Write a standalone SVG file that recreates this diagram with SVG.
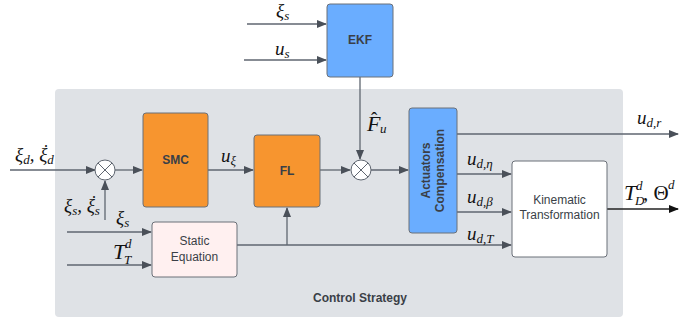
<svg xmlns="http://www.w3.org/2000/svg" width="700" height="324" viewBox="0 0 700 324">
<defs>
<marker id="ah" markerWidth="10" markerHeight="8" refX="9" refY="4" orient="auto" markerUnits="userSpaceOnUse">
<path d="M0,0 L10,4 L0,8 Z" fill="#4a5059"/>
</marker>
<marker id="ahk" markerWidth="10" markerHeight="8" refX="9" refY="4" orient="auto" markerUnits="userSpaceOnUse">
<path d="M0,0 L10,4 L0,8 Z" fill="#111"/>
</marker>
</defs>
<style>
.box{stroke:#6b7078;stroke-width:1}
.blk{font-family:"Liberation Sans",Arial,sans-serif;font-size:12px;font-weight:bold;fill:#3a3f47;text-anchor:middle}
.blk2{font-family:"Liberation Sans",Arial,sans-serif;font-size:12px;fill:#3a3f47;text-anchor:middle}
.ln{stroke:#5f6670;stroke-width:1.3;fill:none}
.m{font-family:"Liberation Serif","Times New Roman",serif;font-style:italic;font-size:19px;fill:#111}
.s{font-size:13px}
.big{font-size:22px}
.up{font-style:normal}
.dot{font-family:"Liberation Serif","Times New Roman",serif;font-size:16px;fill:#111;text-anchor:middle}
</style>
<rect x="55" y="89" width="568" height="228" rx="4" fill="#dfe2e6"/>

<g id="connectors">
<line class="ln" x1="10" y1="170" x2="95" y2="170" marker-end="url(#ah)"/>
<line class="ln" x1="105" y1="220" x2="105" y2="181" marker-end="url(#ah)"/>
<line class="ln" x1="115" y1="170" x2="142" y2="170" marker-end="url(#ah)"/>
<line class="ln" x1="208" y1="170" x2="253" y2="170" marker-end="url(#ah)"/>
<line class="ln" x1="320" y1="170" x2="350" y2="170" marker-end="url(#ah)"/>
<line class="ln" x1="371" y1="170" x2="408" y2="170" marker-end="url(#ah)"/>
<line class="ln" x1="360" y1="77" x2="360" y2="159" marker-end="url(#ah)"/>
<line class="ln" x1="247" y1="24" x2="326" y2="24" marker-end="url(#ah)"/>
<line class="ln" x1="244" y1="60" x2="326" y2="60" marker-end="url(#ah)"/>
<line class="ln" x1="67" y1="232" x2="151" y2="232" marker-end="url(#ah)"/>
<line class="ln" x1="67" y1="265" x2="151" y2="265" marker-end="url(#ah)"/>
<line class="ln" x1="237" y1="245" x2="511" y2="245" marker-end="url(#ah)"/>
<line class="ln" x1="287" y1="245" x2="287" y2="208" marker-end="url(#ah)"/>
<line class="ln" x1="457" y1="134" x2="678" y2="134" marker-end="url(#ah)"/>
<line class="ln" x1="457" y1="174" x2="511" y2="174" marker-end="url(#ah)"/>
<line class="ln" x1="457" y1="212" x2="511" y2="212" marker-end="url(#ah)"/>
<line class="ln" x1="607" y1="209" x2="678" y2="209" style="stroke:#222" marker-end="url(#ahk)"/>
</g>

<g id="sum1">
<circle cx="105" cy="170" r="10" fill="#fff" stroke="#5f6670" stroke-width="1"/>
<path d="M98,163 L112,177 M112,163 L98,177" stroke="#5f6670" stroke-width="1"/>
</g>
<g id="sum2">
<circle cx="361" cy="170" r="10" fill="#fff" stroke="#5f6670" stroke-width="1"/>
<path d="M354,163 L368,177 M368,163 L354,177" stroke="#5f6670" stroke-width="1"/>
</g>

<g id="smc">
<rect class="box" x="143" y="113" width="65" height="94" rx="3" fill="#f7952f"/>
<text class="blk" x="175.5" y="164">SMC</text>
</g>
<g id="fl">
<rect class="box" x="254" y="135" width="66" height="72" rx="3" fill="#f7952f"/>
<text class="blk" x="287" y="175">FL</text>
</g>
<g id="ekf">
<rect class="box" x="327" y="4" width="66" height="73" rx="3" fill="#6aadff"/>
<text class="blk" x="360" y="44">EKF</text>
</g>
<g id="actuators">
<rect class="box" x="409" y="108" width="48" height="125" rx="3" fill="#6aadff"/>
<text class="blk" transform="translate(430,170.5) rotate(-90)" y="0">Actuators</text>
<text class="blk" transform="translate(444,170.5) rotate(-90)" y="0">Compensation</text>
</g>
<g id="kinematic">
<rect class="box" x="512" y="161" width="95" height="96" rx="3" fill="#fff"/>
<text class="blk2" x="559.5" y="204">Kinematic</text>
<text class="blk2" x="559.5" y="219">Transformation</text>
</g>
<g id="static">
<rect class="box" x="152" y="222" width="85" height="55" rx="3" fill="#fff0f0"/>
<text class="blk2" x="194.5" y="245">Static</text>
<text class="blk2" x="194.5" y="261">Equation</text>
</g>

<g id="labels">
<text class="m" x="15" y="161">ξ<tspan class="s" dy="3">d</tspan><tspan dy="-3">, ξ</tspan><tspan class="s" dy="3">d</tspan></text>
<text class="dot" x="46" y="147">.</text>
<text class="m" x="64" y="212">ξ<tspan class="s" dy="3">s</tspan><tspan dy="-3">, ξ</tspan><tspan class="s" dy="3">s</tspan></text>
<text class="dot" x="94" y="198">.</text>
<text class="m" x="221" y="162">u<tspan class="s" dy="3">ξ</tspan></text>
<text class="m" x="116" y="224">ξ<tspan class="s" dy="3">s</tspan></text>
<text class="m big" x="113" y="259">T</text>
<text class="m s" x="125" y="248">d</text>
<text class="m s" x="124" y="264">T</text>
<text class="m" x="276" y="17">ξ<tspan class="s" dy="3">s</tspan></text>
<text class="m" x="275" y="55">u<tspan class="s" dy="3">s</tspan></text>
<text class="m big" x="367" y="131">F</text>
<text class="m up" x="371" y="125">ˆ</text>
<text class="m s" x="380" y="133">u</text>
<text class="m" x="637" y="124">u<tspan class="s" dy="3">d,r</tspan></text>
<text class="m" x="467" y="165">u<tspan class="s" dy="3">d,η</tspan></text>
<text class="m" x="467" y="203">u<tspan class="s" dy="3">d,β</tspan></text>
<text class="m" x="467" y="240">u<tspan class="s" dy="3">d,T</tspan></text>
<text class="m big" x="624" y="200">T</text>
<text class="m s" x="636" y="190">d</text>
<text class="m s" x="635" y="205">D</text>
<text class="m up" x="643" y="200" style="font-size:21px">, Θ</text>
<text class="m s" x="668" y="189">d</text>
</g>
<text class="blk" x="360" y="302">Control Strategy</text>
</svg>
